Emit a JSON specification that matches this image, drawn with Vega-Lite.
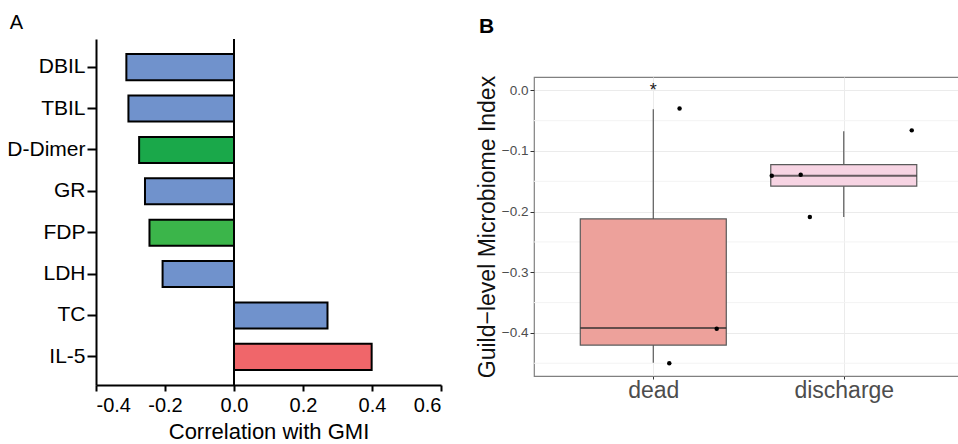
{
  "$schema": "https://vega.github.io/schema/vega-lite/v6.json",
  "background": "white",
  "padding": {"left": 6, "top": 13, "right": 0, "bottom": 0},
  "spacing": 33,
  "resolve": {"scale": {"color": "independent"}},
  "config": {
    "font": "Liberation Sans",
    "view": {"stroke": null},
    "axis": {"labelFont": "Liberation Sans", "titleFont": "Liberation Sans"},
    "title": {"font": "Liberation Sans"}
  },
  "datasets": {
    "corr": [
      {"marker": "DBIL", "r": -0.312, "class": "biochemistry"},
      {"marker": "TBIL", "r": -0.306, "class": "biochemistry"},
      {"marker": "D-Dimer", "r": -0.275, "class": "coagulation D-Dimer"},
      {"marker": "GR", "r": -0.258, "class": "biochemistry"},
      {"marker": "FDP", "r": -0.245, "class": "coagulation FDP"},
      {"marker": "LDH", "r": -0.207, "class": "biochemistry"},
      {"marker": "TC", "r": 0.271, "class": "biochemistry"},
      {"marker": "IL-5", "r": 0.399, "class": "cytokine"}
    ],
    "boxes": [
      {"group": "dead", "pos": 1, "lower": -0.449, "q1": -0.420, "median": -0.392, "q3": -0.212, "upper": -0.031},
      {"group": "discharge", "pos": 2, "lower": -0.209, "q1": -0.158, "median": -0.141, "q3": -0.1226, "upper": -0.0676}
    ],
    "pts": [
      {"group": "dead", "xj": 1.138, "value": -0.030},
      {"group": "dead", "xj": 1.333, "value": -0.393},
      {"group": "dead", "xj": 1.084, "value": -0.450},
      {"group": "discharge", "xj": 1.622, "value": -0.141},
      {"group": "discharge", "xj": 1.774, "value": -0.139},
      {"group": "discharge", "xj": 1.822, "value": -0.209},
      {"group": "discharge", "xj": 2.357, "value": -0.066}
    ],
    "outliers": [
      {"group": "dead", "pos": 1, "value": 0.005, "sym": "*"}
    ],
    "minor": [
      {"v": -0.05}, {"v": -0.15}, {"v": -0.25}, {"v": -0.35}, {"v": -0.45}
    ],
    "empty": []
  },
  "hconcat": [
    {
      "width": 345,
      "height": 346,
      "title": {"text": "A", "anchor": "start", "frame": "bounds", "fontSize": 20, "fontWeight": "normal", "color": "black", "offset": 5, "dx": 3},
      "data": {"name": "corr"},
      "layer": [
        {
          "mark": {"type": "bar", "stroke": "black", "strokeWidth": 2},
          "encoding": {
            "y": {
              "field": "marker", "type": "nominal", "sort": null,
              "scale": {"paddingInner": 0.37, "paddingOuter": 0.365},
              "axis": {"title": null, "labelFontSize": 21, "labelColor": "black", "tickSize": 9, "tickWidth": 2, "tickColor": "black", "domainWidth": 2, "domainColor": "black", "labelPadding": 2}
            },
            "x": {
              "field": "r", "type": "quantitative",
              "scale": {"domain": [-0.4, 0.6], "nice": false},
              "axis": {"title": "Correlation with GMI", "values": [-0.4, -0.2, 0, 0.2, 0.4, 0.6], "labelExpr": "replace(format(datum.value, '.1f'), '−', '-')", "grid": false, "labelFontSize": 20, "labelColor": "black", "titleFontSize": 22, "titleFontWeight": "normal", "titleColor": "black", "tickSize": 6, "tickWidth": 2, "tickColor": "black", "domainWidth": 2, "domainColor": "black", "labelPadding": 4, "titlePadding": 6}
            },
            "color": {
              "field": "class", "type": "nominal",
              "scale": {"domain": ["biochemistry", "coagulation D-Dimer", "coagulation FDP", "cytokine"], "range": ["#7092CC", "#1AA84A", "#3BB54A", "#F0666A"]},
              "legend": null
            }
          }
        },
        {
          "mark": {"type": "rule", "color": "black", "strokeWidth": 2},
          "encoding": {"x": {"datum": 0, "type": "quantitative"}}
        }
      ]
    },
    {
      "spacing": 0,
      "vconcat": [
        {
          "width": 430,
          "height": 35,
          "title": {"text": "B", "anchor": "start", "frame": "group", "fontSize": 21, "fontWeight": "bold", "color": "black", "offset": 2, "dx": -55},
          "data": {"name": "empty"},
          "mark": "point",
          "encoding": {}
        },
        {
          "width": 430,
          "height": 299,
          "view": {"stroke": "#808080", "strokeWidth": 1.2},
          "layer": [
            {
              "data": {"name": "minor"},
              "mark": {"type": "rule", "color": "#F3F3F3", "strokeWidth": 1},
              "encoding": {
                "y": {"field": "v", "type": "quantitative"}
              }
            },
            {
              "data": {"name": "boxes"},
              "mark": {"type": "rule", "color": "#5a5a5a", "strokeWidth": 1.2},
              "encoding": {
                "x": {
                  "field": "pos", "type": "quantitative",
                  "scale": {"domain": [0.4, 2.605], "nice": false, "zero": false},
                  "axis": {"title": null, "values": [1, 2], "labelExpr": "datum.value == 1 ? 'dead' : 'discharge'", "grid": true, "gridColor": "#EBEBEB", "gridWidth": 1, "domain": false, "tickSize": 3, "tickColor": "#333333", "labelFontSize": 23, "labelColor": "#4D4D4D", "labelPadding": 0}
                },
                "y": {
                  "field": "lower", "type": "quantitative",
                  "scale": {"domain": [-0.471, 0.022], "nice": false, "zero": false},
                  "axis": {
                    "title": "Guild−level Microbiome Index", "titleFontSize": 23, "titleFontWeight": "normal", "titleColor": "#111111", "titlePadding": 2,
                    "values": [-0.4, -0.3, -0.2, -0.1, 0],
                    "labelExpr": "replace(format(datum.value, '.1f'), '-', '−')",
                    "grid": true, "gridColor": "#EBEBEB",
                    "domain": false, "tickSize": 4, "tickColor": "#333333", "labelFontSize": 13.5, "labelColor": "#4D4D4D", "labelPadding": 2
                  }
                },
                "y2": {"field": "upper"}
              }
            },
            {
              "data": {"name": "boxes"},
              "mark": {"type": "bar", "width": 146, "stroke": "#5a5a5a", "strokeWidth": 1.2},
              "encoding": {
                "x": {"field": "pos", "type": "quantitative"},
                "y": {"field": "q1", "type": "quantitative"},
                "y2": {"field": "q3"},
                "color": {"field": "group", "type": "nominal", "scale": {"domain": ["dead", "discharge"], "range": ["#EDA19B", "#F7D4E3"]}, "legend": null}
              }
            },
            {
              "data": {"name": "boxes"},
              "mark": {"type": "tick", "orient": "horizontal", "size": 146, "thickness": 2, "color": "#2a2a2a"},
              "encoding": {
                "x": {"field": "pos", "type": "quantitative"},
                "y": {"field": "median", "type": "quantitative"}
              }
            },
            {
              "data": {"name": "pts"},
              "mark": {"type": "circle", "size": 20, "color": "black", "opacity": 1},
              "encoding": {
                "x": {"field": "xj", "type": "quantitative"},
                "y": {"field": "value", "type": "quantitative"}
              }
            },
            {
              "data": {"name": "outliers"},
              "mark": {"type": "text", "fontSize": 18, "color": "#222222", "baseline": "middle", "dy": 4},
              "encoding": {
                "x": {"field": "pos", "type": "quantitative"},
                "y": {"field": "value", "type": "quantitative"},
                "text": {"field": "sym"}
              }
            }
          ]
        }
      ]
    }
  ]
}
